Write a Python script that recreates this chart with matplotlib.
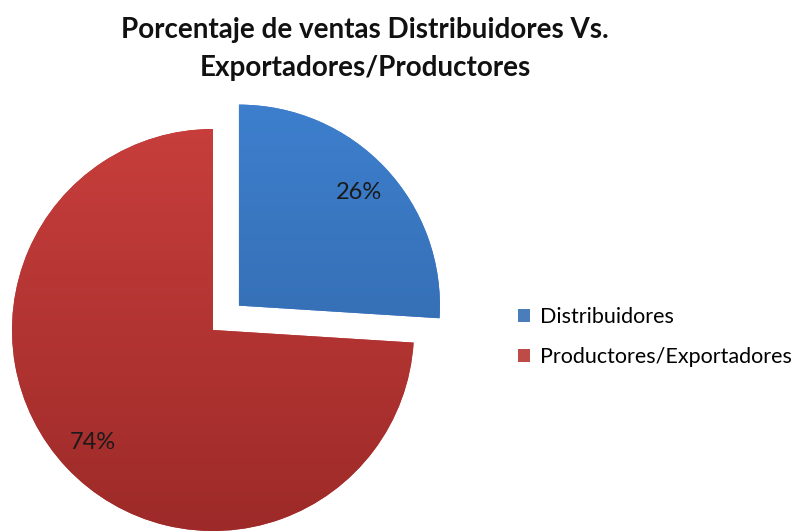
import numpy as np
import matplotlib
matplotlib.use("Agg")
import matplotlib.pyplot as plt
from matplotlib.colors import LinearSegmentedColormap
from matplotlib.patches import Patch

categories = ["Distribuidores", "Productores/Exportadores"]
values = [26, 74]
title = "Porcentaje de ventas Distribuidores Vs.\nExportadores/Productores"

colors = ["#4177C4", "#BA3A38"]
grad_top = ["#3E80CF", "#CB403E"]
grad_bot = ["#2E619F", "#9C2A28"]

plt.rcParams['font.family'] = ['Lato', 'DejaVu Sans']

fig = plt.figure(figsize=(7.98, 5.32), dpi=100)
ax = fig.add_axes([0, 0, 1, 1])

cx, cy, R = 213, 532 - 330, 201
wedges, texts, autotexts = ax.pie(
    values, colors=colors, startangle=90, counterclock=False,
    explode=[35.6, 0], center=(cx, cy), radius=R,
    autopct='%1.0f%%', pctdistance=0.82,
    textprops=dict(fontsize=17, color='#1a1a1a'),
    wedgeprops=dict(linewidth=0))

for w, top, bot in zip(wedges, grad_top, grad_bot):
    cmap = LinearSegmentedColormap.from_list("g", [bot, top])
    grad = np.linspace(0, 1, 256).reshape(-1, 1)
    im = ax.imshow(grad, cmap=cmap, origin='lower', aspect='auto',
                   extent=(cx - 2 * R, cx + 2 * R, cy - R - 10, cy + R + 40),
                   zorder=w.get_zorder() + 0.1)
    im.set_clip_path(w)

for t in autotexts:
    t.set_zorder(5)

ax.set_xlim(0, 798)
ax.set_ylim(0, 532)
ax.set_aspect('equal')
ax.axis('off')

fig.text(365 / 798, 1 - 49 / 532, title, ha='center', va='center',
         fontsize=20, fontweight='bold', linespacing=1.55, color='#111111')

handles = [Patch(facecolor=c, edgecolor='none') for c in ["#4A7EBB", "#BE4B48"]]
ax.legend(handles, categories, loc='center left',
          bbox_to_anchor=(499 / 798, 1 - 337 / 532), frameon=False,
          fontsize=15.5, handlelength=0.55, handleheight=0.55,
          handletextpad=0.45, labelspacing=0.95)

fig.savefig("out.png", dpi=100)
